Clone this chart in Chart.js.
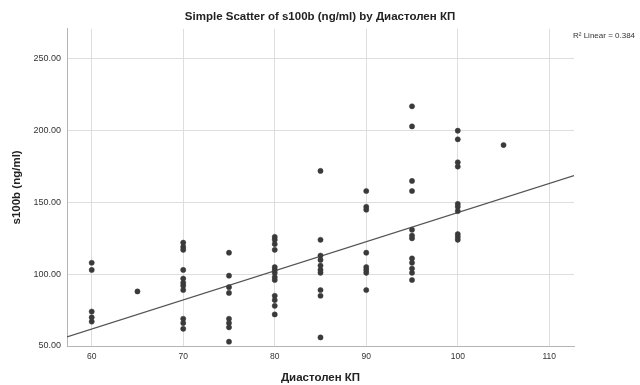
<!DOCTYPE html>
<html>
<head>
<meta charset="utf-8">
<script src="https://cdn.jsdelivr.net/npm/chart.js@4/dist/chart.umd.min.js"></script>
<style>
    body { margin: 0; background: #fff; }
</style>
</head>
<body>
<canvas id="scatterChart" width="640" height="385"></canvas>
<script>
    /* =========================
       DATA
    ========================= */
    const diastolic = [
        60, 60, 60, 60, 60,
        65,
        70, 70, 70, 70, 70, 70, 70, 70, 70, 70, 70,
        75, 75, 75, 75, 75, 75, 75, 75,
        80, 80, 80, 80, 80, 80, 80, 80, 80, 80, 80, 80, 80,
        85, 85, 85, 85, 85, 85, 85, 85, 85, 85,
        90, 90, 90, 90, 90, 90, 90, 90,
        95, 95, 95, 95, 95, 95, 95, 95, 95, 95, 95, 95,
        100, 100, 100, 100, 100, 100, 100, 100, 100, 100,
        105
    ];
    const s100b = [
        108, 103, 74, 70, 67,
        88,
        122, 119, 117, 103, 97, 94, 92, 89, 69, 66, 62,
        115, 99, 91, 87, 69, 66, 63, 53,
        126, 124, 121, 117, 105, 103, 101, 98, 96, 85, 82, 78, 72,
        172, 124, 113, 110, 106, 103, 101, 89, 85, 56,
        158, 147, 145, 115, 105, 103, 101, 89,
        217, 203, 165, 158, 131, 127, 125, 111, 108, 104, 101, 96,
        200, 194, 178, 175, 149, 147, 144, 128, 126, 124,
        190
    ];

    const xTicks = [60, 70, 80, 90, 100, 110];
    const yTicks = [50, 100, 150, 200, 250];
    const xRange = [57.3, 112.7];
    const yRange = [50, 271];

    // fit line
    const fitIntercept = -60;
    const fitSlope = 2.03;
    const rSquaredText = "R\u00b2 Linear = 0.384";

    const FONT = "'Liberation Sans', Arial, sans-serif";

    /* =========================
       CHART
    ========================= */
    const points = diastolic.map((x, i) => ({ x, y: s100b[i] }));
    const fitLine = xRange.map(x => ({ x, y: fitIntercept + fitSlope * x }));

    const rSquaredLabel = {
        id: "rSquaredLabel",
        afterDraw(chart) {
            const ctx = chart.ctx;
            ctx.save();
            ctx.font = "8px " + FONT;
            ctx.fillStyle = "#333";
            ctx.textBaseline = "middle";
            ctx.fillText(rSquaredText, chart.chartArea.right - 1, 36);
            ctx.restore();
        }
    };

    new Chart(document.getElementById("scatterChart"), {
        type: "scatter",
        data: {
            datasets: [
                {
                    data: points,
                    backgroundColor: "#3a3a3a",
                    borderColor: "#3a3a3a",
                    pointRadius: 2.6,
                    pointBorderWidth: 0.5
                },
                {
                    type: "line",
                    data: fitLine,
                    borderColor: "#555",
                    borderWidth: 1.2,
                    pointRadius: 0,
                    fill: false
                }
            ]
        },
        options: {
            responsive: false,
            animation: false,
            layout: { padding: 0 },
            plugins: {
                legend: { display: false },
                tooltip: { enabled: false },
                title: {
                    display: true,
                    text: "Simple Scatter of s100b (ng/ml) by Диастолен КП",
                    color: "#222",
                    font: { family: FONT, size: 11.5, weight: "bold" },
                    padding: { top: 10, bottom: 5 }
                }
            },
            scales: {
                x: {
                    type: "linear",
                    min: xRange[0],
                    max: xRange[1],
                    afterBuildTicks: s => { s.ticks = xTicks.map(v => ({ value: v })); },
                    afterFit: s => { s.height = 39; },
                    grid: { color: "#dedede", drawTicks: false },
                    border: { color: "#b5b5b5" },
                    ticks: {
                        color: "#333",
                        padding: 6,
                        font: { family: FONT, size: 8.5 }
                    },
                    title: {
                        display: true,
                        text: "Диастолен КП",
                        color: "#222",
                        font: { family: FONT, size: 11.5, weight: "bold" },
                        padding: { top: 0, bottom: 0 }
                    }
                },
                y: {
                    min: yRange[0],
                    max: yRange[1],
                    afterBuildTicks: s => { s.ticks = yTicks.map(v => ({ value: v })); },
                    afterFit: s => { s.width = 67; },
                    grid: { color: "#dedede", drawTicks: false },
                    border: { color: "#b5b5b5" },
                    ticks: {
                        color: "#333",
                        padding: 6,
                        font: { family: FONT, size: 9 },
                        callback: v => v.toFixed(2)
                    },
                    title: {
                        display: true,
                        text: "s100b (ng/ml)",
                        color: "#222",
                        font: { family: FONT, size: 11.5, weight: "bold" },
                        padding: { top: 10, bottom: 0 }
                    }
                },
                side: {
                    position: "right",
                    display: true,
                    grid: { display: false },
                    border: { display: false },
                    ticks: { display: false },
                    afterFit: s => { s.width = 66; }
                }
            }
        },
        plugins: [rSquaredLabel]
    });
</script>
</body>
</html>
